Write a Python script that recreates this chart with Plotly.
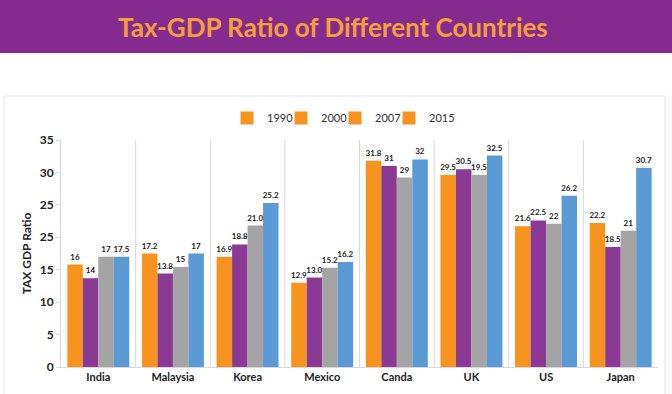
import plotly.graph_objects as go

countries = ["India", "Malaysia", "Korea", "Mexico", "Canda", "UK", "US", "Japan"]
years = ["1990", "2000", "2007", "2015"]

v1990 = [15.8, 17.5, 17.0, 13.0, 31.8, 29.6, 21.7, 22.2]
v2000 = [13.7, 14.4, 18.9, 13.8, 31.0, 30.5, 22.6, 18.5]
v2007 = [17.0, 15.4, 21.8, 15.3, 29.2, 29.6, 22.1, 21.0]
v2015 = [17.0, 17.5, 25.3, 16.2, 32.0, 32.6, 26.4, 30.7]

t1990 = ["16", "17.2", "16.9", "12.9", "31.8", "29.5", "21.6", "22.2"]
t2000 = ["14", "13.8", "18.8", "13.0", "31", "30.5", "22.5", "18.5"]
t2007 = ["17", "15", "21.0", "15.2", "29", "19.5", "22", "21"]
t2015 = ["17.5", "17", "25.2", "16.2", "32", "32.5", "26.2", "30.7"]

ytick_vals = [0, 5, 10, 15, 20, 25, 30, 35]
ytick_text = ["0", "5", "10", "15", "25", "25", "30", "35"]

bar_colors = ["#F7931E", "#8A3A94", "#A5A4A5", "#5B9BD5"]
legend_color = "#F7931E"

W, H = 672, 394
L, R, T, B = 61, 14, 140, 27
pw, ph = W - L - R, H - T - B


def px_x(x):
    return (x - L) / pw


def px_y(y):
    return (H - B - y) / ph


fig = go.Figure()
series = [v1990, v2000, v2007, v2015]
texts = [t1990, t2000, t2007, t2015]
for i, yr in enumerate(years):
    fig.add_trace(go.Bar(
        x=countries, y=series[i], name=yr, text=texts[i],
        textposition="outside", cliponaxis=False, constraintext="none",
        textfont=dict(size=8, color="#222", family="Lato", weight="bold"),
        marker=dict(color=bar_colors[i], line=dict(width=0)),
        showlegend=False,
    ))

# legend entries (all swatches orange as in the reference), one legend per year
legend_defs = {}
for j, yr in enumerate(years):
    lname = "legend" if j == 0 else f"legend{j + 1}"
    fig.add_trace(go.Scatter(
        x=[None], y=[None], name=yr, mode="markers",
        marker=dict(color=legend_color, symbol="square", size=13),
        showlegend=True, legend=lname,
    ))
    legend_defs[lname] = dict(
        orientation="h", x=px_x(227 + 54 * j), y=px_y(118),
        xanchor="left", yanchor="middle",
        font=dict(family="Lato", size=11, color="#333"),
        itemwidth=30, bgcolor="rgba(0,0,0,0)",
    )

shapes = []
# banner
shapes.append(dict(type="rect", xref="paper", yref="paper",
                   x0=px_x(0), x1=px_x(W), y0=px_y(53), y1=px_y(0),
                   fillcolor="#852B8F", line=dict(width=0), layer="below"))
# chart box
shapes.append(dict(type="rect", xref="paper", yref="paper",
                   x0=px_x(4), x1=px_x(665), y0=px_y(400), y1=px_y(96),
                   fillcolor="rgba(0,0,0,0)", line=dict(width=1, color="#E6E6E6"),
                   layer="below"))
# category separators
for k in range(1, len(countries)):
    shapes.append(dict(type="line", xref="x", yref="y",
                       x0=k - 0.5, x1=k - 0.5, y0=0, y1=35,
                       line=dict(color="#D9D9D9", width=1), layer="below"))

fig.update_layout(
    width=W, height=H,
    margin=dict(l=L, r=R, t=T, b=B),
    paper_bgcolor="white", plot_bgcolor="white",
    barmode="group", bargap=0.17, bargroupgap=0,
    shapes=shapes,
    annotations=[dict(text="Tax-GDP Ratio of Different Countries",
                      xref="paper", yref="paper", x=px_x(333), y=px_y(27),
                      xanchor="center", yanchor="middle", showarrow=False,
                      font=dict(family="Lato", size=26, color="#F4A03A", weight="bold"))],
    font=dict(family="Lato", color="#222"),
    **legend_defs,
)
fig.update_xaxes(showgrid=False, showline=True, linecolor="#D9D9D9",
                 tickfont=dict(size=11, family="Lato", weight="bold", color="#222"),
                 ticks="", automargin=False)
fig.update_yaxes(range=[0, 35], tickvals=ytick_vals, ticktext=ytick_text,
                 showgrid=False, zeroline=False, showline=True, linecolor="#D9D9D9",
                 ticks="outside", ticklen=4, tickcolor="#E0E0E0",
                 tickfont=dict(size=12, family="Lato", weight="bold", color="#222"),
                 title=dict(text="TAX GDP Ratio", standoff=5,
                            font=dict(size=12, family="Lato", weight="bold", color="#222")),
                 automargin=False)

fig.write_html("out.html", config={"displayModeBar": False},
               post_script="document.body.style.margin='0';")
